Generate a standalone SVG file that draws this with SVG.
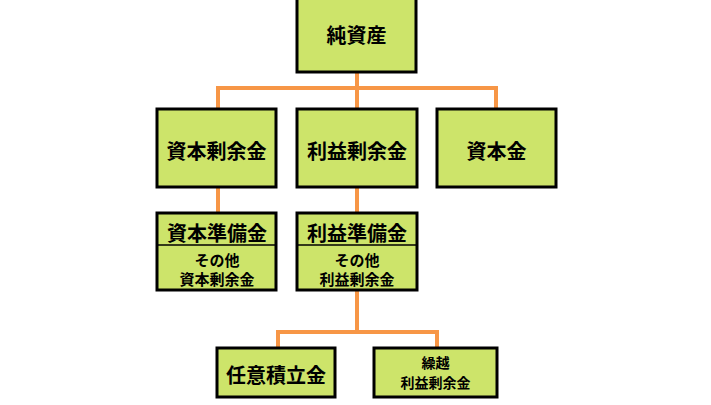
<svg xmlns="http://www.w3.org/2000/svg" width="711" height="405" viewBox="0 0 711 405">
<style>
.box{fill:#cde46a;stroke:#000;stroke-width:3}
.div{stroke:#000;stroke-width:1.5}
.con{fill:none;stroke:#f79646;stroke-width:4}
text{font-family:"Noto Sans CJK JP","Noto Sans",sans-serif;font-weight:bold;fill:#000;text-anchor:middle;dominant-baseline:central}
.l{font-size:20px}
.m{font-size:15px}
.s{font-size:14px}
</style>
<rect width="711" height="405" fill="#fff"/>
<g id="connectors">
<path class="con" d="M357,72 V88 M218,109 V88 H496 V109 M357,88 V109"/>
<path class="con" d="M218,187 V213 M357,187 V213"/>
<path class="con" d="M357,290 V332 M278,348 V332 H437 V348"/>
</g>
<g id="n1"><rect class="box" x="297" y="-2" width="119" height="74"/><text class="l" x="356.5" y="34">純資産</text></g>
<g id="n2"><rect class="box" x="157" y="109" width="119" height="78"/><text class="l" x="216.5" y="150">資本剰余金</text></g>
<g id="n3"><rect class="box" x="297" y="109" width="120" height="78"/><text class="l" x="357" y="150">利益剰余金</text></g>
<g id="n4"><rect class="box" x="437" y="109" width="119" height="78"/><text class="l" x="496.5" y="150">資本金</text></g>
<g id="n5"><rect class="box" x="157" y="213" width="119" height="77"/><line class="div" x1="157" y1="245" x2="276" y2="245"/><text class="l" x="217" y="232">資本準備金</text><text class="m" x="217" y="259">その他</text><text class="m" x="217" y="278">資本剰余金</text></g>
<g id="n6"><rect class="box" x="297" y="213" width="120" height="77"/><line class="div" x1="297" y1="245" x2="417" y2="245"/><text class="l" x="357" y="232">利益準備金</text><text class="m" x="357" y="259">その他</text><text class="m" x="357" y="278">利益剰余金</text></g>
<g id="n7"><rect class="box" x="217" y="348" width="118" height="49"/><text class="l" x="276" y="374">任意積立金</text></g>
<g id="n8"><rect class="box" x="374" y="348" width="123" height="49"/><text class="s" x="435.5" y="362">繰越</text><text class="s" x="435.5" y="382">利益剰余金</text></g>
</svg>
